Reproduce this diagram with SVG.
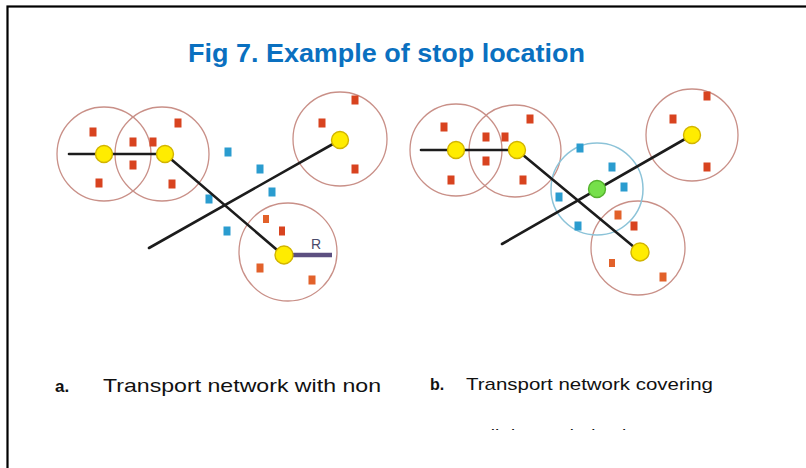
<svg xmlns="http://www.w3.org/2000/svg" width="806" height="468" viewBox="0 0 806 468">
<style>
.frame{fill:#fff;stroke:#000;stroke-width:2.2}
.zone{fill:none;stroke:#c99088;stroke-width:1.3}
.zoneb{fill:none;stroke:#8cc3d8;stroke-width:1.5}
.road{stroke:#1c1c1c;stroke-width:2.6;fill:none;stroke-linecap:round}
.stop{fill:#ffec00;stroke:#d2b400;stroke-width:1.4}
.gstop{fill:#76e04a;stroke:#55b22e;stroke-width:1.4}
.red{fill:#d8431f}
.org{fill:#e2612a}
.blu{fill:#2a9ccf}
.title{font-family:"Liberation Sans",Arial,sans-serif;font-weight:bold;font-size:25px;fill:#0a70c0}
.lab{font-family:"Liberation Sans",Arial,sans-serif;fill:#111}
</style>
<defs>
<clipPath id="cut"><rect x="0" y="0" width="806" height="430"/></clipPath>
</defs>
<rect class="frame" x="7.5" y="6.5" width="820" height="480"/>
<text class="title" x="188" y="62" textLength="397" lengthAdjust="spacingAndGlyphs">Fig 7. Example of stop location</text>

<!-- Panel a -->
<g id="a-zones">
<circle class="zone" cx="104" cy="154" r="47"/>
<circle class="zone" cx="162" cy="154" r="47"/>
<circle class="zone" cx="340" cy="139" r="47"/>
<circle class="zone" cx="288" cy="252" r="49"/>
</g>
<g id="a-demand">
<rect class="red" x="89.5" y="127.5" width="7" height="9"/>
<rect class="red" x="129.5" y="137.5" width="7" height="9"/>
<rect class="red" x="149.5" y="137.5" width="7" height="9"/>
<rect class="red" x="129.5" y="160.5" width="7" height="9"/>
<rect class="red" x="95.5" y="178.5" width="7" height="9"/>
<rect class="red" x="168.5" y="179.5" width="7" height="9"/>
<rect class="red" x="174.5" y="118.5" width="7" height="9"/>
<rect class="red" x="351.5" y="95.5" width="7" height="9"/>
<rect class="red" x="318.5" y="118.5" width="7" height="9"/>
<rect class="red" x="351.5" y="164.5" width="7" height="9"/>
<rect class="org" x="263" y="215" width="6" height="8"/>
<rect class="red" x="279" y="226.5" width="6" height="9"/>
<rect class="org" x="256.5" y="263.5" width="7" height="9"/>
<rect class="org" x="308.5" y="275.5" width="7" height="9"/>
<rect class="blu" x="224.5" y="147.5" width="7" height="9"/>
<rect class="blu" x="256.5" y="164.5" width="7" height="9"/>
<rect class="blu" x="268.5" y="187.5" width="7" height="9"/>
<rect class="blu" x="205.5" y="194.5" width="7" height="9"/>
<rect class="blu" x="223.5" y="226.5" width="7" height="9"/>
</g>
<g id="a-connectors">
<line class="road" x1="69" y1="154" x2="165" y2="154"/>
<line class="road" x1="165" y1="154" x2="283" y2="255"/>
<line class="road" x1="149" y1="248" x2="340" y2="140"/>
<line x1="283" y1="255" x2="332" y2="255" stroke="#5c4f80" stroke-width="4.5"/>
</g>
<g id="a-stop1"><circle class="stop" cx="104" cy="154" r="8.5"/></g>
<g id="a-stop2"><circle class="stop" cx="165" cy="154" r="8.5"/></g>
<g id="a-stop3"><circle class="stop" cx="340" cy="140" r="8.5"/></g>
<g id="a-stop4"><circle class="stop" cx="284" cy="255" r="9"/></g>
<text x="311" y="249" font-family="Liberation Sans,Arial,sans-serif" font-size="14" fill="#4a4a6a">R</text>

<!-- Panel b -->
<g id="b-zones">
<circle class="zone" cx="456" cy="150" r="46"/>
<circle class="zone" cx="515" cy="151" r="46"/>
<circle class="zone" cx="692" cy="135" r="46"/>
<circle class="zone" cx="638" cy="248" r="47"/>
<circle class="zoneb" cx="597" cy="189" r="46"/>
</g>
<g id="b-demand">
<rect class="red" x="440.5" y="122.5" width="7" height="9"/>
<rect class="red" x="482.5" y="132.5" width="7" height="9"/>
<rect class="red" x="501.5" y="132.5" width="7" height="9"/>
<rect class="red" x="482.5" y="156.5" width="7" height="9"/>
<rect class="red" x="447.5" y="175.5" width="7" height="9"/>
<rect class="red" x="519.5" y="175.5" width="7" height="9"/>
<rect class="red" x="526.5" y="114.5" width="7" height="9"/>
<rect class="red" x="703.5" y="91.5" width="7" height="9"/>
<rect class="red" x="669.5" y="114.5" width="7" height="9"/>
<rect class="red" x="703.5" y="162.5" width="7" height="9"/>
<rect class="org" x="614.5" y="210.5" width="7" height="9"/>
<rect class="red" x="630.5" y="221.5" width="7" height="9"/>
<rect class="org" x="609" y="259" width="6" height="8"/>
<rect class="org" x="659.5" y="272.5" width="7" height="9"/>
<rect class="blu" x="576.5" y="143.5" width="7" height="9"/>
<rect class="blu" x="608.5" y="162.5" width="7" height="9"/>
<rect class="blu" x="620.5" y="182.5" width="7" height="9"/>
<rect class="blu" x="555.5" y="192.5" width="7" height="9"/>
<rect class="blu" x="574.5" y="221.5" width="7" height="9"/>
</g>
<g id="b-connectors">
<line class="road" x1="421" y1="150" x2="517" y2="150"/>
<line class="road" x1="517" y1="150" x2="640" y2="252"/>
<line class="road" x1="502" y1="244" x2="692" y2="135"/>
</g>
<g id="b-stop1"><circle class="stop" cx="456" cy="150" r="8.5"/></g>
<g id="b-stop2"><circle class="stop" cx="517" cy="150" r="8.5"/></g>
<g id="b-stop3"><circle class="stop" cx="692" cy="135" r="8.5"/></g>
<g id="b-stop4"><circle class="stop" cx="640" cy="252" r="9"/></g>
<g id="b-newstop"><circle class="gstop" cx="597" cy="189" r="8.5"/></g>

<!-- Captions -->
<text class="lab" x="55" y="392" font-size="17" font-weight="bold">a.</text>
<text class="lab" x="103" y="392" font-size="19" textLength="278" lengthAdjust="spacingAndGlyphs">Transport network  with non</text>
<text class="lab" x="430" y="390" font-size="16" font-weight="bold">b.</text>
<text class="lab" x="466" y="390" font-size="17" textLength="247" lengthAdjust="spacingAndGlyphs">Transport  network  covering</text>
<g clip-path="url(#cut)">
<text class="lab" x="480" y="440.5" font-size="16" textLength="172" lengthAdjust="spacingAndGlyphs">all demanded points</text>
</g>
</svg>
